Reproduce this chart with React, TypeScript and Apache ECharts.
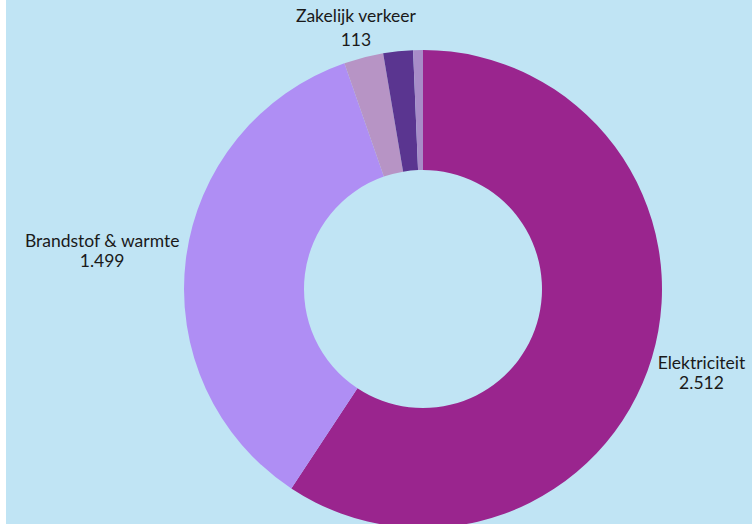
import React, { useEffect, useRef } from "react";
import * as echarts from "echarts";

const categories = ["Elektriciteit", "Brandstof & warmte", "Zakelijk verkeer", "Overig", "Rest"];
const values = [2512, 1499, 113, 85, 28];
const showLabel = [true, true, true, false, false];
const colors = ["#9a258e", "#af8ef4", "#b794c5", "#5a3590", "#a88cc8"];
// label angle nudges (degrees clockwise from top), null = slice mid-angle
const labelAngleOverride: (number | null)[] = [null, 276.8, null, null, null];
const lineHeights = [20, 20, 24, 20, 20];

const CX = 417;
const CY = 289;
const R_OUT = 239;
const R_IN = 119;
const GAP = 6;

function fmt(v: number): string {
  return String(v).replace(/\B(?=(\d{3})+(?!\d))/g, ".");
}

export default function App() {
  const ref = useRef<HTMLDivElement>(null);
  useEffect(() => {
    if (!ref.current) return;
    const chart = echarts.init(ref.current, undefined, { renderer: "svg" });
    const total = values.reduce((a, b) => a + b, 0);
    const mids: number[] = [];
    let cum = 0;
    values.forEach((v) => {
      mids.push(((cum + v / 2) / total) * 360);
      cum += v;
    });
    chart.setOption({
      animation: false,
      backgroundColor: "#c0e4f4",
      series: [
        {
          type: "pie",
          center: [CX, CY],
          radius: [R_IN, R_OUT],
          startAngle: 90,
          clockwise: true,
          avoidLabelOverlap: false,
          label: {
            position: "outside",
            fontFamily: "Lato",
            fontSize: 17.5,
            color: "#1a1a1a",
            align: "center",
            formatter: (p: any) => `${p.name}\n${fmt(p.value)}`,
          },
          labelLine: { show: false },
          emphasis: { disabled: true },
          labelLayout: (p: any) => {
            const i = p.dataIndex;
            const ang = labelAngleOverride[i] ?? mids[i];
            const t = (ang * Math.PI) / 180;
            const ux = Math.sin(t);
            const uy = -Math.cos(t);
            const w = p.labelRect.width;
            const h = p.labelRect.height;
            const ex = Math.abs(ux) > 1e-6 ? w / 2 / Math.abs(ux) : Infinity;
            const ey = Math.abs(uy) > 1e-6 ? h / 2 / Math.abs(uy) : Infinity;
            const D = R_OUT + GAP + Math.min(ex, ey);
            return { x: CX + D * ux, y: CY + D * uy, align: "center", verticalAlign: "middle" };
          },
          data: categories.map((name, i) => ({
            name,
            value: values[i],
            itemStyle: { color: colors[i] },
            label: { show: showLabel[i], lineHeight: lineHeights[i] },
          })),
        },
      ],
    });
    return () => chart.dispose();
  }, []);
  return (
    <div
      ref={ref}
      style={{ position: "fixed", left: 6, top: 0, width: 746, height: 524, background: "#c0e4f4" }}
    />
  );
}
